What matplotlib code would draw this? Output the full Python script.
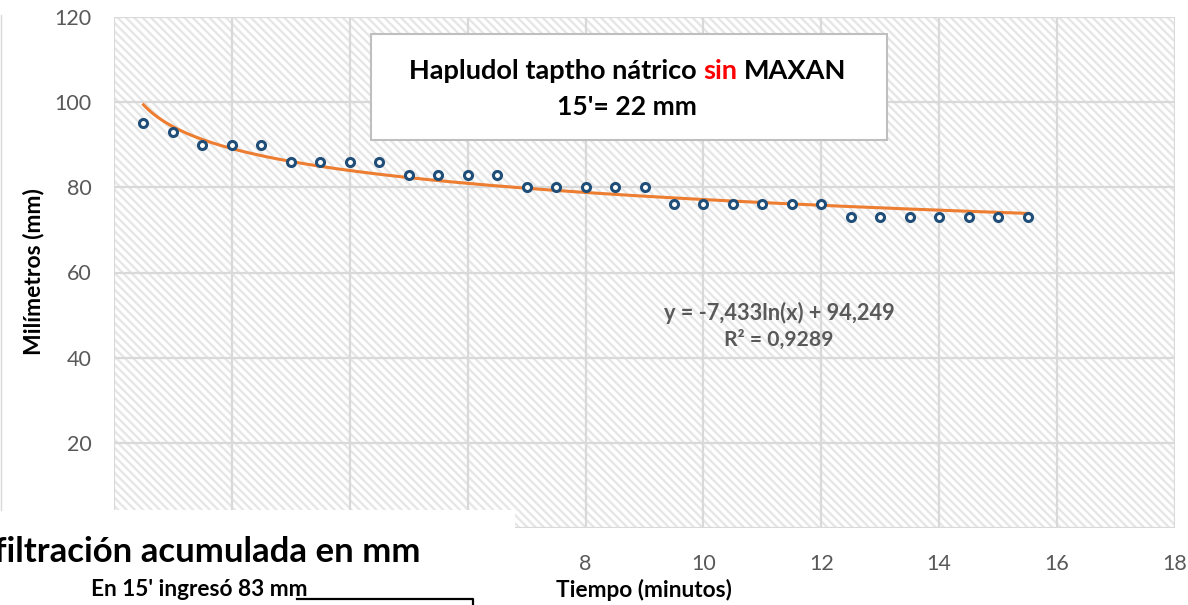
import numpy as np
import matplotlib
matplotlib.use("Agg")
import matplotlib.pyplot as plt
from matplotlib.patches import Rectangle
from matplotlib.lines import Line2D

# ---------------- data ----------------
tiempo = [0.5, 1, 1.5, 2, 2.5, 3, 3.5, 4, 4.5, 5, 5.5, 6, 6.5, 7, 7.5, 8,
          8.5, 9, 9.5, 10, 10.5, 11, 11.5, 12, 12.5, 13, 13.5, 14, 14.5, 15, 15.5]
milimetros = [95, 93, 90, 90, 90, 86, 86, 86, 86, 83, 83, 83, 83, 80, 80, 80,
              80, 80, 76, 76, 76, 76, 76, 76, 73, 73, 73, 73, 73, 73, 73]
x_ticks = [0, 2, 4, 6, 8, 10, 12, 14, 16, 18]
# labels hidden under the white box in the picture are left empty
x_tick_labels = ["", "", "", "", "8", "10", "12", "14", "16", "18"]
y_ticks = [0, 20, 40, 60, 80, 100, 120]
y_tick_labels = ["", "20", "40", "60", "80", "100", "120"]
titulo_a = "Hapludol taptho nátrico"
titulo_rojo = "sin"
titulo_b = "MAXAN"
titulo_2 = "15'= 22 mm"
ecuacion = "y = -7,433ln(x) + 94,249"
r2 = "R² = 0,9289"
x_label = "Tiempo (minutos)"
y_label = "Milímetros (mm)"
caja_titulo = "Infiltración acumulada en mm"
caja_sub = "En 15' ingresó 83 mm"

W, H = 1188, 605
plt.rcParams['font.family'] = ['Lato', 'DejaVu Sans']
plt.rcParams['hatch.linewidth'] = 1.7
fig = plt.figure(figsize=(W / 100, H / 100), dpi=100)
fig.patch.set_facecolor('white')

def fx(px):
    return px / W

def fy(py):
    return 1 - py / H

L, R, T, B = 114, 1175, 17, 528
ax = fig.add_axes([fx(L), fy(B), fx(R) - fx(L), fy(T) - fy(B)])
ax.set_xlim(0, 18)
ax.set_ylim(0, 120)
ax.set_xticks(x_ticks, x_tick_labels)
ax.set_yticks(y_ticks, y_tick_labels)
for s in ax.spines.values():
    s.set_visible(False)
ax.tick_params(length=0, labelsize=15.5, labelcolor='#595959')
ax.tick_params(axis='y', pad=16)
ax.tick_params(axis='x', pad=19)
ax.grid(True, color='#d9d9d9', lw=1.6, zorder=1)
ax.set_axisbelow(True)

hatch = Rectangle((0, 0), 1, 1, transform=ax.transAxes, facecolor='white',
                  edgecolor='#e6e6e6', hatch='\\\\\\\\', lw=0, zorder=0)
ax.add_patch(hatch)

# scatter
ax.plot(tiempo, milimetros, ls='none', marker='o', ms=5.8, mew=2.2,
        mec='#1f4e79', mfc='white', zorder=4)

# logarithmic trend line fitted to the data
tx = np.array(tiempo, dtype=float)
coef = np.polyfit(np.log(tx), np.array(milimetros, dtype=float), 1)
xs = np.linspace(tx.min(), tx.max(), 300)
ax.plot(xs, coef[0] * np.log(xs) + coef[1], color='#ed7d31', lw=2.2, zorder=3)

renderer = fig.canvas.get_renderer()

def width_of(s, fs):
    t = fig.text(0, 0, s, fontsize=fs, fontweight='bold')
    w = t.get_window_extent(renderer).width
    t.remove()
    return w

def fit_text(px, py, s, target_w, **kw):
    t = fig.text(fx(px), fy(py), s, fontsize=12, **kw)
    w = t.get_window_extent(renderer).width
    t.set_fontsize(12 * target_w / w)
    return t

# equation
fit_text(779, 313, ecuacion, 230, ha='center', va='center', color='#595959',
         fontweight='bold', zorder=6)
fit_text(779, 340, r2, 109, ha='center', va='center', color='#595959',
         fontweight='bold', zorder=6)

# axis labels
xl = fit_text(644, 590, x_label, 175, ha='center', va='center', color='black',
              fontweight='bold', zorder=6)
fs_lbl = xl.get_fontsize()
ty = fig.text(fx(34), fy(272), y_label, rotation=90, fontsize=12, ha='center',
              va='center', fontweight='bold', color='black')
hh = ty.get_window_extent(renderer).height
ty.set_fontsize(12 * 166 / hh)

# title box
fig.add_artist(Rectangle((fx(371), fy(140)), fx(887) - fx(371), fy(34) - fy(140),
                         transform=fig.transFigure, facecolor='white',
                         edgecolor='#bfbfbf', lw=1.5, zorder=5))
full = titulo_a + " " + titulo_rojo + " " + titulo_b
fs_t = 12 * 436 / width_of(full, 12)
sp = width_of("H H", fs_t) - width_of("HH", fs_t)
wa, wr, wb = width_of(titulo_a, fs_t), width_of(titulo_rojo, fs_t), width_of(titulo_b, fs_t)
total = wa + sp + wr + sp + wb
x0 = 628 - total / 2
for s, c, xx in [(titulo_a, 'black', x0), (titulo_rojo, '#ff0000', x0 + wa + sp),
                 (titulo_b, 'black', x0 + wa + sp + wr + sp)]:
    fig.text(fx(xx), fy(71), s, fontsize=fs_t, fontweight='bold', color=c,
             ha='left', va='center', zorder=6)
fit_text(627, 107, titulo_2, 139, ha='center', va='center', color='black',
         fontweight='bold', zorder=6)

# overlaid white box bottom-left
fig.add_artist(Rectangle((0, 0), fx(515), fy(510), transform=fig.transFigure,
                         facecolor='white', edgecolor='none', zorder=5))
fig.add_artist(Line2D([fx(1), fx(1)], [fy(15), fy(510)], transform=fig.transFigure,
                      color='#d9d9d9', lw=1.0, zorder=5))
# the reference shows this title running off the left edge ("filtración ...")
vis = caja_titulo[2:]
fs_b = 12 * 424 / width_of(vis, 12)
fig.text(fx(420), fy(552), caja_titulo, fontsize=fs_b, fontweight='bold',
         ha='right', va='center', color='black', zorder=6)
sub = fig.text(fx(91), fy(590), caja_sub, fontsize=fs_lbl, fontweight='bold',
               ha='left', va='center', color='black', zorder=6)
sub_end = 91 + sub.get_window_extent(renderer).width
line_start = sub_end - 0.55 * width_of("m", fs_lbl)
fig.add_artist(Line2D([fx(line_start), fx(473), fx(473)], [fy(599), fy(599), fy(606)],
                      transform=fig.transFigure, color='black', lw=1.6, zorder=6))

fig.savefig('out.png', dpi=100, facecolor='white')
